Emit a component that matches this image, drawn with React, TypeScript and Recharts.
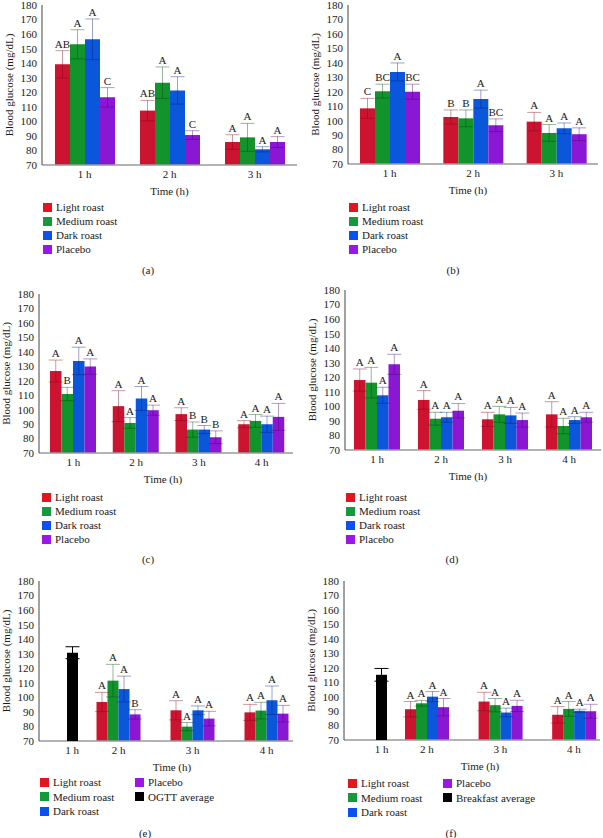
import React from 'react';
import { BarChart, Bar, XAxis, YAxis, ErrorBar, LabelList, ReferenceLine } from 'recharts';

const serif = '"Liberation Serif", "DejaVu Serif", "Times New Roman", serif';

const seriesNames = ['Light roast', 'Medium roast', 'Dark roast', 'Placebo'];
const seriesColors = ['#cc1431', '#13932b', '#0b57dc', '#8b17d4'];
const keyColors = ['#e3161f', '#149a3c', '#0b50f0', '#9c17e6'];
const whiskerColors = ['rgba(125,0,20,0.4)', 'rgba(0,70,10,0.4)', 'rgba(0,25,120,0.4)', 'rgba(70,0,110,0.4)'];
const yTicks = [70, 80, 90, 100, 110, 120, 130, 140, 150, 160, 170, 180];
const gridLevels = [100, 120, 140, 160];

const hoursThree = ['1 h', '2 h', '3 h'];
const hoursFour = ['1 h', '2 h', '3 h', '4 h'];
const hoursAfter = ['2 h', '3 h', '4 h'];
const hoursFirst = ['1 h'];

// (a) rows = light, medium, dark, placebo
const meansA = [
  [139.2, 107.4, 85.8],
  [153.0, 126.6, 89.0],
  [156.4, 121.3, 80.8],
  [116.5, 90.6, 85.8],
];
const errsA = [
  [9.4, 7.0, 5.0],
  [10.0, 10.8, 9.6],
  [14.0, 9.4, 1.8],
  [6.7, 3.0, 3.7],
];
const sigsA = [
  ['AB', 'AB', 'A'],
  ['A', 'A', 'A'],
  ['A', 'A', 'A'],
  ['C', 'C', 'A'],
];

// (b)
const meansB = [
  [108.5, 102.5, 99.3],
  [120.4, 101.6, 91.5],
  [133.7, 114.9, 94.7],
  [120.0, 96.8, 90.6],
];
const errsB = [
  [6.9, 4.9, 6.4],
  [4.8, 5.8, 5.8],
  [6.2, 6.2, 3.7],
  [5.2, 4.4, 4.4],
];
const sigsB = [
  ['C', 'B', 'A'],
  ['BC', 'B', 'A'],
  ['A', 'A', 'A'],
  ['BC', 'BC', 'A'],
];

// (c)
const meansC = [
  [126.7, 102.4, 96.9, 89.9],
  [110.8, 90.8, 86.2, 92.2],
  [133.7, 107.7, 86.2, 89.9],
  [129.8, 99.6, 80.9, 95.0],
];
const errsC = [
  [7.6, 10.7, 4.4, 2.5],
  [4.6, 3.7, 5.3, 4.4],
  [9.5, 8.3, 2.8, 5.6],
  [5.3, 3.5, 4.4, 9.3],
];
const sigsC = [
  ['A', 'A', 'A', 'A'],
  ['B', 'A', 'B', 'A'],
  ['A', 'A', 'B', 'A'],
  ['A', 'A', 'B', 'A'],
];

// (d)
const meansD = [
  [118.1, 104.4, 91.1, 94.5],
  [116.3, 91.5, 94.5, 86.5],
  [107.6, 92.5, 93.8, 90.6],
  [128.9, 97.0, 90.6, 92.5],
];
const errsD = [
  [7.6, 6.4, 4.8, 8.7],
  [10.5, 4.4, 5.5, 5.3],
  [5.5, 3.4, 5.5, 2.3],
  [6.9, 5.0, 4.8, 3.4],
];
const sigsD = [
  ['A', 'A', 'A', 'A'],
  ['A', 'A', 'A', 'A'],
  ['A', 'A', 'A', 'A'],
  ['A', 'A', 'A', 'A'],
];

// (e)
const meansE = [
  [96.8, 91.1, 89.7],
  [111.5, 79.9, 90.9],
  [105.7, 91.1, 98.0],
  [88.3, 85.4, 88.8],
];
const errsE = [
  [6.6, 6.6, 5.5],
  [11.2, 2.8, 5.7],
  [8.9, 3.0, 9.8],
  [3.2, 5.0, 5.7],
];
const sigsE = [
  ['A', 'A', 'A'],
  ['A', 'A', 'A'],
  ['A', 'A', 'A'],
  ['B', 'A', 'A'],
];
const ogttMean = [130.7];
const ogttErr = [4.1];

// (f)
const meansF = [
  [91.3, 96.6, 87.4],
  [95.4, 94.1, 91.5],
  [100.0, 89.0, 90.2],
  [92.7, 93.6, 89.9],
];
const errsF = [
  [5.3, 6.4, 5.7],
  [2.0, 4.6, 5.1],
  [3.5, 3.0, 1.1],
  [6.0, 3.9, 4.8],
];
const sigsF = [
  ['A', 'A', 'A'],
  ['A', 'A', 'A'],
  ['A', 'A', 'A'],
  ['A', 'A', 'A'],
];
const breakfastMean = [115.1];
const breakfastErr = [4.4];

const AXIS_W = 42;
const TOP_PAD = 5;
const RIGHT_PAD = 2;
const X_H = 34;

type Geo = {
  left: number; top: number; bottom: number; right: number;
  bar: number; padL: number; padR: number; timeDx: number; refBand?: number;
};

const geoA: Geo = { left: 42, top: 5, bottom: 165, right: 297, bar: 15, padL: 0, padR: 0, timeDx: 0 };
const geoB: Geo = { left: 348, top: 5, bottom: 164, right: 598, bar: 15, padL: 0, padR: 0, timeDx: -5 };
const geoC: Geo = { left: 39, top: 294, bottom: 453, right: 293, bar: 11.5, padL: 3, padR: 0, timeDx: -3 };
const geoD: Geo = { left: 345, top: 290, bottom: 450, right: 601, bar: 11.5, padL: 0, padR: 0, timeDx: -5 };
const geoE: Geo = { left: 39, top: 581, bottom: 741, right: 293, bar: 11, padL: 42.5, padR: -10.5, timeDx: 6, refBand: 66 };
const geoF: Geo = { left: 344, top: 581, bottom: 740, right: 600, bar: 11, padL: 46, padR: -10.75, timeDx: 8, refBand: 75 };

const tickStyle = { fontSize: 11, fill: '#1a1a1a', fontFamily: serif };

// letter sits just above the whisker cap
const sigLabel = (means: number[], errs: number[]) => (props: any) => {
  const box = props.viewBox ?? props;
  const i = props.index ?? 0;
  const perUnit = box.height / (means[i] - 70);
  const capY = box.y - errs[i] * perUnit;
  return (
    <text x={box.x + box.width / 2} y={capY - 3} textAnchor="middle" fontSize={11} fontFamily={serif} fill="#1a1a1a">
      {props.value}
    </text>
  );
};

interface PanelProps {
  geo: Geo;
  hours: string[];
  means: number[][];
  errs: number[][];
  sigs: string[][];
  refHours?: string[];
  refMean?: number[];
  refErr?: number[];
}

const GlucosePanel: React.FC<PanelProps> = ({ geo, hours, means, errs, sigs, refHours, refMean, refErr }) => {
  const rows = hours.map((h, i) => {
    const r: any = { hour: h };
    means.forEach((m, s) => {
      r['m' + s] = m[i];
      r['e' + s] = errs[s][i];
      r['s' + s] = sigs[s][i];
    });
    return r;
  });
  const plotW = geo.right - geo.left;
  const plotH = geo.bottom - geo.top;
  const w = AXIS_W + plotW + RIGHT_PAD;
  const h = TOP_PAD + plotH + X_H;
  const pos: React.CSSProperties = { position: 'absolute', left: geo.left - AXIS_W, top: geo.top - TOP_PAD };

  return (
    <>
      {/* dotted guide lines sit underneath the bars */}
      <div style={pos}>
        <BarChart width={w} height={h} data={rows} margin={{ top: TOP_PAD, right: RIGHT_PAD, left: AXIS_W, bottom: X_H }}>
          <XAxis dataKey="hour" hide />
          <YAxis hide domain={[70, 180]} />
          {gridLevels.map((v) => (
            <ReferenceLine key={v} y={v} stroke="#c4c4c4" strokeDasharray="2 2" />
          ))}
        </BarChart>
      </div>
      <div style={pos}>
        <BarChart width={w} height={h} data={rows} margin={{ top: TOP_PAD, right: RIGHT_PAD, left: 0, bottom: 0 }} barSize={geo.bar} barGap={0}>
          <XAxis
            dataKey="hour"
            height={X_H}
            padding={{ left: geo.padL, right: geo.padR }}
            axisLine={{ stroke: '#9a9a9a', strokeWidth: 1.5 }}
            tickLine={false}
            tickSize={3}
            tickMargin={2}
            tick={tickStyle}
            interval={0}
            label={{
              value: 'Time (h)', position: 'insideBottom', offset: 4, dx: geo.timeDx,
              fontSize: 11, fontFamily: serif, fill: '#1a1a1a',
            }}
          />
          <YAxis
            width={AXIS_W}
            domain={[70, 180]}
            ticks={yTicks}
            interval={0}
            axisLine={{ stroke: '#444' }}
            tickLine={false}
            tickSize={3}
            tickMargin={2}
            tick={tickStyle}
            label={{
              value: 'Blood glucose (mg/dL)', angle: -90, position: 'insideLeft', offset: 9,
              fontSize: 11, fontFamily: serif, fill: '#1a1a1a', style: { textAnchor: 'middle' },
            }}
          />
          {means.map((m, s) => (
            <Bar key={s} dataKey={'m' + s} name={seriesNames[s]} fill={seriesColors[s]} isAnimationActive={false}>
              <ErrorBar dataKey={'e' + s} width={7} stroke={whiskerColors[s]} strokeWidth={1} />
              <LabelList dataKey={'s' + s} content={sigLabel(m, errs[s])} />
            </Bar>
          ))}
        </BarChart>
      </div>
      {refMean && refHours && refErr && (
        <div style={pos}>
          <BarChart
            width={w}
            height={h}
            data={refHours.map((hr, i) => ({ hour: hr, m: refMean[i], e: refErr[i] }))}
            margin={{ top: TOP_PAD, right: RIGHT_PAD, left: AXIS_W, bottom: 0 }}
            barSize={geo.bar}
          >
            <XAxis
              dataKey="hour"
              height={X_H}
              padding={{ left: 0, right: plotW - (geo.refBand ?? 66) }}
              axisLine={false}
              tickLine={false}
              tickSize={3}
              tickMargin={2}
              tick={tickStyle}
            />
            <YAxis hide domain={[70, 180]} />
            <Bar dataKey="m" fill="#000" isAnimationActive={false}>
              <ErrorBar dataKey="e" width={7} stroke="#000" strokeWidth={1} />
            </Bar>
          </BarChart>
        </div>
      )}
    </>
  );
};

const Key = ({ x, y, color, label }: { x: number; y: number; color: string; label: string }) => (
  <div style={{ position: 'absolute', left: x, top: y - 7, height: 14, display: 'flex', alignItems: 'center', whiteSpace: 'nowrap' }}>
    <span style={{ width: 9, height: 9, background: color, display: 'inline-block', marginRight: 4 }} />
    <span style={{ fontSize: 11, lineHeight: '14px', color: '#1a1a1a' }}>{label}</span>
  </div>
);

const Caption = ({ x, y, text }: { x: number; y: number; text: string }) => (
  <div style={{ position: 'absolute', left: x - 20, top: y - 7, width: 40, textAlign: 'center', fontSize: 11, lineHeight: '14px', color: '#1a1a1a' }}>
    {text}
  </div>
);

const VerticalKeys = ({ x, y }: { x: number; y: number }) => (
  <>
    {seriesNames.map((n, i) => (
      <Key key={n} x={x} y={y + i * 14} color={keyColors[i]} label={n} />
    ))}
  </>
);

const TwoColumnKeys = ({ x, x2, y, refName }: { x: number; x2: number; y: number; refName: string }) => (
  <>
    <Key x={x} y={y} color={keyColors[0]} label={seriesNames[0]} />
    <Key x={x} y={y + 14.5} color={keyColors[1]} label={seriesNames[1]} />
    <Key x={x} y={y + 29} color={keyColors[2]} label={seriesNames[2]} />
    <Key x={x2} y={y} color={keyColors[3]} label={seriesNames[3]} />
    <Key x={x2} y={y + 14.5} color="#000" label={refName} />
  </>
);

const App: React.FC = () => {
  return (
    <div style={{ position: 'absolute', left: 0, top: 0, width: 603, height: 838, background: '#fff', overflow: 'hidden', fontFamily: serif }}>
      <GlucosePanel geo={geoA} hours={hoursThree} means={meansA} errs={errsA} sigs={sigsA} />
      <VerticalKeys x={43} y={207} />
      <Caption x={148} y={270} text="(a)" />

      <GlucosePanel geo={geoB} hours={hoursThree} means={meansB} errs={errsB} sigs={sigsB} />
      <VerticalKeys x={349} y={207} />
      <Caption x={453} y={270} text="(b)" />

      <GlucosePanel geo={geoC} hours={hoursFour} means={meansC} errs={errsC} sigs={sigsC} />
      <VerticalKeys x={42} y={497} />
      <Caption x={148} y={559} text="(c)" />

      <GlucosePanel geo={geoD} hours={hoursFour} means={meansD} errs={errsD} sigs={sigsD} />
      <VerticalKeys x={346} y={497} />
      <Caption x={452} y={559} text="(d)" />

      <GlucosePanel geo={geoE} hours={hoursAfter} means={meansE} errs={errsE} sigs={sigsE}
        refHours={hoursFirst} refMean={ogttMean} refErr={ogttErr} />
      <TwoColumnKeys x={40} x2={135} y={782} refName="OGTT average" />
      <Caption x={145} y={833} text="(e)" />

      <GlucosePanel geo={geoF} hours={hoursAfter} means={meansF} errs={errsF} sigs={sigsF}
        refHours={hoursFirst} refMean={breakfastMean} refErr={breakfastErr} />
      <TwoColumnKeys x={348} x2={443} y={783} refName="Breakfast average" />
      <Caption x={451} y={833} text="(f)" />
    </div>
  );
};

export default App;
